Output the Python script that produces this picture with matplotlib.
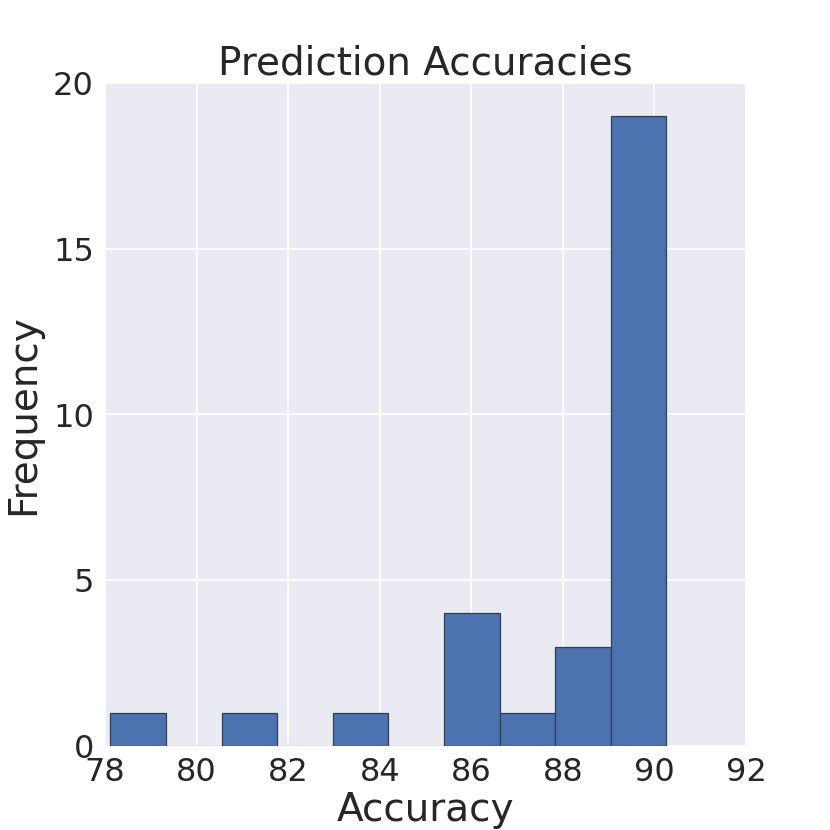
import numpy as np
import matplotlib
matplotlib.use("Agg")
import matplotlib.pyplot as plt

# histogram of prediction accuracies (10 bins between min and max accuracy)
acc_min = 78.12
acc_max = 90.26
counts = [1, 0, 1, 0, 1, 0, 4, 1, 3, 19]
x_ticks = [78, 80, 82, 84, 86, 88, 90, 92]
y_ticks = [0, 5, 10, 15, 20]

bins = np.linspace(acc_min, acc_max, len(counts) + 1)
centers = (bins[:-1] + bins[1:]) / 2

fig = plt.figure(figsize=(8.3, 8.3), dpi=100)
ax = fig.add_axes([105 / 830, 84 / 830, 641 / 830, 663 / 830])
ax.set_facecolor('#EAEAF2')
for s in ax.spines.values():
    s.set_visible(False)
ax.grid(True, color='white', linewidth=1.3)
ax.set_axisbelow(True)

ax.hist(centers, bins=bins, weights=counts, color='#4C72B0',
        edgecolor='#2F3E55', linewidth=0.9)

ax.set_xlim(78, 92)
ax.set_ylim(0, 20)
ax.set_xticks(x_ticks)
ax.set_yticks(y_ticks)
ax.tick_params(length=0, labelsize=23, colors='#262626', pad=8)
ax.set_title('Prediction Accuracies', fontsize=28, color='#262626', pad=6)
ax.set_xlabel('Accuracy', fontsize=28, color='#262626', labelpad=2)
ax.set_ylabel('Frequency', fontsize=28, color='#262626', labelpad=8)

fig.savefig('out.png', dpi=100)
